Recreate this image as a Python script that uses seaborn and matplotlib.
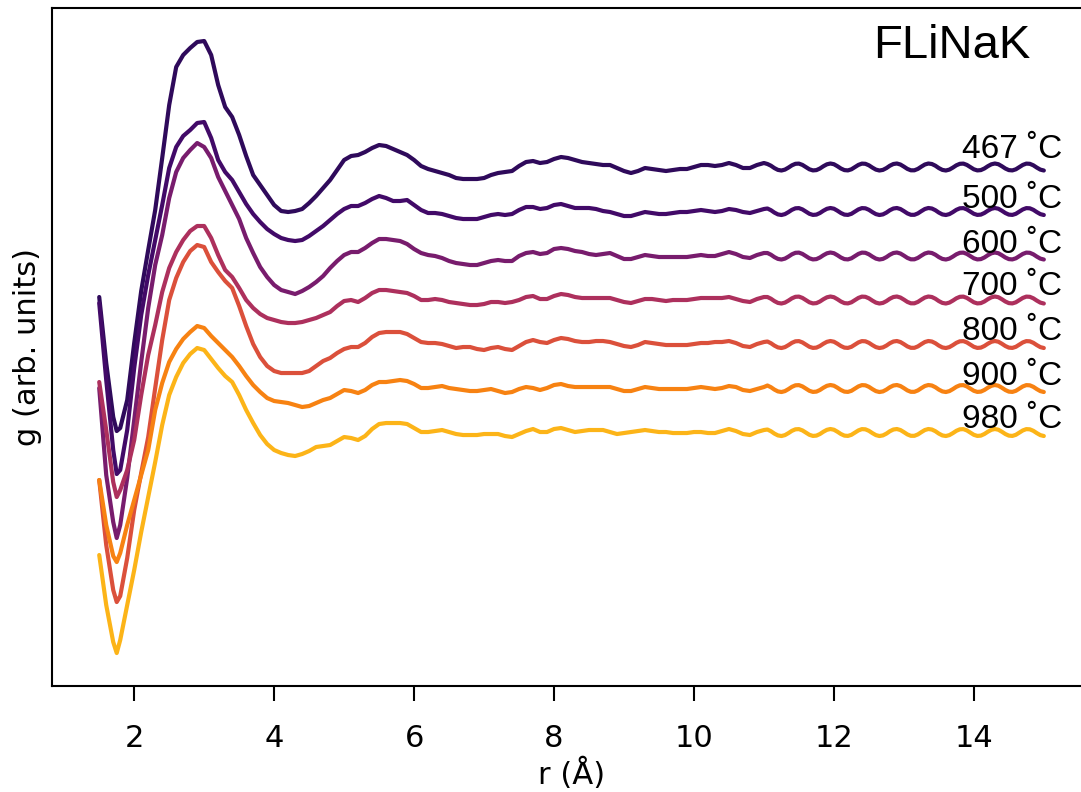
import numpy as np
import pandas as pd
import seaborn as sns
import matplotlib
matplotlib.use("Agg")
import matplotlib.pyplot as plt
from matplotlib.colors import Normalize

# sampling grid in r (Angstrom): 0.1 steps, finer in the rippled tail
r = ([1.5, 1.6, 1.7, 1.75]
     + list(np.round(np.arange(1.8, 11.05, 0.1), 2))
     + list(np.round(np.arange(11.05, 15.01, 0.05), 2)))

temps = [467, 500, 600, 700, 800, 900, 980]

# g(r), already stacked with offsets (arb. units)
g_467 = [3.89, 3.23, 2.69, 2.55, 2.58, 2.86, 3.43, 3.95, 4.36, 4.76,
         5.28, 5.81, 6.19, 6.31, 6.38, 6.44, 6.45, 6.31, 6.01, 5.79,
         5.69, 5.51, 5.30, 5.11, 5.01, 4.91, 4.81, 4.75, 4.74, 4.75,
         4.77, 4.83, 4.90, 4.98, 5.06, 5.16, 5.26, 5.30, 5.31, 5.34,
         5.38, 5.41, 5.40, 5.37, 5.34, 5.31, 5.26, 5.20, 5.17, 5.15,
         5.13, 5.11, 5.08, 5.07, 5.07, 5.07, 5.08, 5.11, 5.13, 5.14,
         5.15, 5.20, 5.24, 5.25, 5.23, 5.24, 5.27, 5.29, 5.28, 5.26,
         5.24, 5.23, 5.22, 5.21, 5.21, 5.18, 5.15, 5.13, 5.15, 5.18,
         5.17, 5.16, 5.15, 5.16, 5.17, 5.17, 5.19, 5.21, 5.21, 5.20,
         5.21, 5.23, 5.21, 5.18, 5.18, 5.21, 5.23,
         5.220, 5.203, 5.179, 5.161, 5.155, 5.164, 5.184, 5.207, 5.222, 5.224,
         5.211, 5.189, 5.167, 5.156, 5.159, 5.175, 5.198, 5.217, 5.225, 5.218,
         5.198, 5.175, 5.159, 5.156, 5.167, 5.189, 5.211, 5.224, 5.222, 5.207,
         5.184, 5.164, 5.155, 5.161, 5.179, 5.203, 5.220, 5.225, 5.215, 5.194,
         5.171, 5.157, 5.157, 5.171, 5.194, 5.215, 5.225, 5.220, 5.203, 5.179,
         5.161, 5.155, 5.164, 5.184, 5.207, 5.222, 5.224, 5.211, 5.189, 5.167,
         5.156, 5.159, 5.175, 5.198, 5.217, 5.225, 5.218, 5.198, 5.175, 5.159,
         5.156, 5.167, 5.189, 5.211, 5.224, 5.222, 5.207, 5.184, 5.164, 5.155]

g_500 = [3.83, 3.06, 2.36, 2.12, 2.16, 2.56, 3.18, 3.71, 4.11, 4.46,
         4.81, 5.18, 5.39, 5.50, 5.56, 5.63, 5.64, 5.48, 5.26, 5.14,
         5.06, 4.94, 4.82, 4.72, 4.64, 4.57, 4.52, 4.48, 4.46, 4.45,
         4.46, 4.50, 4.55, 4.60, 4.66, 4.72, 4.77, 4.80, 4.80, 4.83,
         4.87, 4.90, 4.88, 4.85, 4.85, 4.86, 4.81, 4.76, 4.73, 4.73,
         4.72, 4.70, 4.68, 4.67, 4.67, 4.67, 4.69, 4.71, 4.72, 4.71,
         4.72, 4.76, 4.79, 4.79, 4.77, 4.78, 4.81, 4.82, 4.80, 4.78,
         4.78, 4.78, 4.77, 4.75, 4.74, 4.72, 4.70, 4.70, 4.72, 4.74,
         4.73, 4.72, 4.72, 4.73, 4.74, 4.74, 4.75, 4.76, 4.75, 4.74,
         4.75, 4.77, 4.76, 4.74, 4.73, 4.75, 4.77,
         4.775, 4.758, 4.734, 4.716, 4.710, 4.719, 4.739, 4.762, 4.777, 4.779,
         4.766, 4.744, 4.722, 4.711, 4.714, 4.730, 4.753, 4.772, 4.780, 4.773,
         4.753, 4.730, 4.714, 4.711, 4.722, 4.744, 4.766, 4.779, 4.777, 4.762,
         4.739, 4.719, 4.710, 4.716, 4.734, 4.758, 4.775, 4.780, 4.770, 4.749,
         4.726, 4.712, 4.712, 4.726, 4.749, 4.770, 4.780, 4.775, 4.758, 4.734,
         4.716, 4.710, 4.719, 4.739, 4.762, 4.777, 4.779, 4.766, 4.744, 4.722,
         4.711, 4.714, 4.730, 4.753, 4.772, 4.780, 4.773, 4.753, 4.730, 4.714,
         4.711, 4.722, 4.744, 4.766, 4.779, 4.777, 4.762, 4.739, 4.719, 4.710]

g_600 = [2.98, 2.11, 1.64, 1.48, 1.61, 2.08, 2.66, 3.24, 3.78, 4.21,
         4.51, 4.88, 5.14, 5.28, 5.36, 5.43, 5.39, 5.28, 5.09, 4.95,
         4.81, 4.67, 4.48, 4.33, 4.19, 4.09, 4.01, 3.96, 3.94, 3.92,
         3.95, 3.99, 4.04, 4.10, 4.18, 4.25, 4.31, 4.34, 4.34, 4.38,
         4.43, 4.47, 4.47, 4.46, 4.45, 4.42, 4.37, 4.33, 4.31, 4.30,
         4.28, 4.25, 4.23, 4.22, 4.21, 4.21, 4.23, 4.25, 4.26, 4.25,
         4.25, 4.30, 4.33, 4.34, 4.32, 4.33, 4.37, 4.38, 4.37, 4.35,
         4.34, 4.32, 4.31, 4.32, 4.33, 4.30, 4.27, 4.27, 4.29, 4.31,
         4.30, 4.29, 4.29, 4.29, 4.29, 4.29, 4.30, 4.31, 4.30, 4.30,
         4.32, 4.34, 4.32, 4.29, 4.28, 4.31, 4.33,
         4.330, 4.313, 4.289, 4.271, 4.265, 4.274, 4.294, 4.317, 4.332, 4.334,
         4.321, 4.299, 4.277, 4.266, 4.269, 4.285, 4.308, 4.327, 4.335, 4.328,
         4.308, 4.285, 4.269, 4.266, 4.277, 4.299, 4.321, 4.334, 4.332, 4.317,
         4.294, 4.274, 4.265, 4.271, 4.289, 4.313, 4.330, 4.335, 4.325, 4.304,
         4.281, 4.267, 4.267, 4.281, 4.304, 4.325, 4.335, 4.330, 4.313, 4.289,
         4.271, 4.265, 4.274, 4.294, 4.317, 4.332, 4.334, 4.321, 4.299, 4.277,
         4.266, 4.269, 4.285, 4.308, 4.327, 4.335, 4.328, 4.308, 4.285, 4.269,
         4.266, 4.277, 4.299, 4.321, 4.334, 4.332, 4.317, 4.294, 4.274, 4.265]

g_700 = [3.04, 2.56, 2.04, 1.89, 1.96, 2.16, 2.46, 2.91, 3.31, 3.61,
         3.94, 4.18, 4.34, 4.46, 4.55, 4.60, 4.60, 4.48, 4.31, 4.16,
         4.09, 3.98, 3.86, 3.78, 3.72, 3.68, 3.66, 3.64, 3.63, 3.63,
         3.64, 3.66, 3.68, 3.71, 3.74, 3.80, 3.85, 3.86, 3.84, 3.88,
         3.93, 3.96, 3.96, 3.95, 3.94, 3.93, 3.90, 3.86, 3.86, 3.87,
         3.86, 3.84, 3.83, 3.82, 3.81, 3.81, 3.82, 3.84, 3.84, 3.83,
         3.84, 3.86, 3.89, 3.90, 3.87, 3.87, 3.90, 3.92, 3.91, 3.89,
         3.88, 3.88, 3.88, 3.88, 3.88, 3.86, 3.84, 3.83, 3.85, 3.87,
         3.87, 3.86, 3.85, 3.86, 3.86, 3.86, 3.87, 3.88, 3.88, 3.88,
         3.88, 3.89, 3.87, 3.85, 3.84, 3.87, 3.89,
         3.890, 3.873, 3.849, 3.831, 3.825, 3.834, 3.854, 3.877, 3.892, 3.894,
         3.881, 3.859, 3.837, 3.826, 3.829, 3.845, 3.868, 3.887, 3.895, 3.888,
         3.868, 3.845, 3.829, 3.826, 3.837, 3.859, 3.881, 3.894, 3.892, 3.877,
         3.854, 3.834, 3.825, 3.831, 3.849, 3.873, 3.890, 3.895, 3.885, 3.864,
         3.841, 3.827, 3.827, 3.841, 3.864, 3.885, 3.895, 3.890, 3.873, 3.849,
         3.831, 3.825, 3.834, 3.854, 3.877, 3.892, 3.894, 3.881, 3.859, 3.837,
         3.826, 3.829, 3.845, 3.868, 3.887, 3.895, 3.888, 3.868, 3.845, 3.829,
         3.826, 3.837, 3.859, 3.881, 3.894, 3.892, 3.877, 3.854, 3.834, 3.825]

g_800 = [2.06, 1.41, 0.96, 0.84, 0.90, 1.28, 1.76, 2.13, 2.49, 2.98,
         3.46, 3.86, 4.08, 4.24, 4.35, 4.41, 4.39, 4.24, 4.14, 4.05,
         3.98, 3.80, 3.60, 3.42, 3.29, 3.20, 3.15, 3.13, 3.13, 3.13,
         3.13, 3.15, 3.20, 3.25, 3.28, 3.33, 3.37, 3.39, 3.39, 3.43,
         3.49, 3.53, 3.54, 3.54, 3.54, 3.52, 3.48, 3.44, 3.43, 3.43,
         3.42, 3.40, 3.38, 3.39, 3.39, 3.37, 3.36, 3.38, 3.39, 3.37,
         3.36, 3.40, 3.44, 3.46, 3.44, 3.43, 3.46, 3.48, 3.47, 3.45,
         3.44, 3.44, 3.45, 3.45, 3.44, 3.42, 3.40, 3.39, 3.41, 3.44,
         3.43, 3.42, 3.41, 3.41, 3.41, 3.41, 3.42, 3.43, 3.43, 3.44,
         3.44, 3.45, 3.43, 3.40, 3.39, 3.42, 3.44,
         3.445, 3.428, 3.404, 3.386, 3.380, 3.389, 3.409, 3.432, 3.447, 3.449,
         3.436, 3.414, 3.392, 3.381, 3.384, 3.400, 3.423, 3.442, 3.450, 3.443,
         3.423, 3.400, 3.384, 3.381, 3.392, 3.414, 3.436, 3.449, 3.447, 3.432,
         3.409, 3.389, 3.380, 3.386, 3.404, 3.428, 3.445, 3.450, 3.440, 3.419,
         3.396, 3.382, 3.382, 3.396, 3.419, 3.440, 3.450, 3.445, 3.428, 3.404,
         3.386, 3.380, 3.389, 3.409, 3.432, 3.447, 3.449, 3.436, 3.414, 3.392,
         3.381, 3.384, 3.400, 3.423, 3.442, 3.450, 3.443, 3.423, 3.400, 3.384,
         3.381, 3.392, 3.414, 3.436, 3.449, 3.447, 3.432, 3.409, 3.389, 3.380]

g_900 = [2.06, 1.61, 1.30, 1.24, 1.33, 1.61, 1.86, 2.11, 2.36, 2.76,
         3.03, 3.24, 3.37, 3.47, 3.54, 3.60, 3.58, 3.50, 3.43, 3.36,
         3.29, 3.20, 3.10, 3.01, 2.94, 2.88, 2.85, 2.84, 2.83, 2.81,
         2.79, 2.80, 2.83, 2.86, 2.88, 2.92, 2.96, 2.95, 2.93, 2.96,
         3.01, 3.04, 3.04, 3.05, 3.06, 3.05, 3.02, 2.98, 2.98, 2.99,
         3.00, 2.98, 2.97, 2.96, 2.95, 2.95, 2.96, 2.97, 2.95, 2.93,
         2.94, 2.97, 2.99, 2.98, 2.96, 2.98, 3.01, 3.02, 3.00, 2.99,
         2.99, 2.99, 2.99, 2.99, 2.99, 2.97, 2.95, 2.95, 2.97, 2.99,
         2.98, 2.97, 2.97, 2.97, 2.97, 2.97, 2.98, 2.99, 2.98, 2.97,
         2.98, 3.00, 2.99, 2.96, 2.95, 2.97, 2.99,
         3.005, 2.988, 2.964, 2.946, 2.940, 2.949, 2.969, 2.992, 3.007, 3.009,
         2.996, 2.974, 2.952, 2.941, 2.944, 2.960, 2.983, 3.002, 3.010, 3.003,
         2.983, 2.960, 2.944, 2.941, 2.952, 2.974, 2.996, 3.009, 3.007, 2.992,
         2.969, 2.949, 2.940, 2.946, 2.964, 2.988, 3.005, 3.010, 3.000, 2.979,
         2.956, 2.942, 2.942, 2.956, 2.979, 3.000, 3.010, 3.005, 2.988, 2.964,
         2.946, 2.940, 2.949, 2.969, 2.992, 3.007, 3.009, 2.996, 2.974, 2.952,
         2.941, 2.944, 2.960, 2.983, 3.002, 3.010, 3.003, 2.983, 2.960, 2.944,
         2.941, 2.952, 2.974, 2.996, 3.009, 3.007, 2.992, 2.969, 2.949, 2.940]

g_980 = [1.31, 0.81, 0.44, 0.33, 0.46, 0.81, 1.16, 1.54, 1.89, 2.24,
         2.61, 2.91, 3.09, 3.23, 3.32, 3.38, 3.36, 3.27, 3.18, 3.10,
         3.04, 2.91, 2.76, 2.63, 2.51, 2.42, 2.36, 2.33, 2.31, 2.30,
         2.32, 2.35, 2.39, 2.40, 2.41, 2.45, 2.49, 2.48, 2.46, 2.50,
         2.57, 2.62, 2.63, 2.63, 2.63, 2.62, 2.58, 2.54, 2.54, 2.55,
         2.56, 2.54, 2.52, 2.51, 2.51, 2.51, 2.52, 2.52, 2.52, 2.50,
         2.49, 2.52, 2.55, 2.57, 2.54, 2.54, 2.57, 2.58, 2.56, 2.54,
         2.55, 2.56, 2.56, 2.56, 2.54, 2.52, 2.53, 2.54, 2.55, 2.56,
         2.55, 2.54, 2.54, 2.53, 2.53, 2.53, 2.54, 2.54, 2.53, 2.53,
         2.55, 2.57, 2.55, 2.52, 2.51, 2.54, 2.56,
         2.565, 2.548, 2.524, 2.506, 2.500, 2.509, 2.529, 2.552, 2.567, 2.569,
         2.556, 2.534, 2.512, 2.501, 2.504, 2.520, 2.543, 2.562, 2.570, 2.563,
         2.543, 2.520, 2.504, 2.501, 2.512, 2.534, 2.556, 2.569, 2.567, 2.552,
         2.529, 2.509, 2.500, 2.506, 2.524, 2.548, 2.565, 2.570, 2.560, 2.539,
         2.516, 2.502, 2.502, 2.516, 2.539, 2.560, 2.570, 2.565, 2.548, 2.524,
         2.506, 2.500, 2.509, 2.529, 2.552, 2.567, 2.569, 2.556, 2.534, 2.512,
         2.501, 2.504, 2.520, 2.543, 2.562, 2.570, 2.563, 2.543, 2.520, 2.504,
         2.501, 2.512, 2.534, 2.556, 2.569, 2.567, 2.552, 2.529, 2.509, 2.500]

curves = [g_467, g_500, g_600, g_700, g_800, g_900, g_980]

# baseline heights of the temperature labels (arb. units)
label_y = [5.28, 4.78, 4.33, 3.91, 3.46, 3.01, 2.58]

labels = [f"{t} \u02daC" for t in temps]

df = pd.concat([pd.DataFrame({"r": r, "g": g, "T": lab}) for lab, g in zip(labels, curves)],
               ignore_index=True)

sns.set_style("ticks")
plt.rcParams["font.family"] = ["DejaVu Sans"]
plt.rcParams["text.color"] = "black"
plt.rcParams["axes.labelcolor"] = "black"
plt.rcParams["xtick.color"] = "black"

# colour follows temperature on the inferno map
norm = Normalize(345, 1110)
cmap = plt.get_cmap("inferno")
colors = {lab: cmap(norm(t)) for lab, t in zip(labels, temps)}

fig = plt.figure(figsize=(10.81, 7.92), dpi=100)
ax = fig.add_axes([0.0481, 0.1338, 0.9612, 0.8561])

sns.lineplot(data=df, x="r", y="g", hue="T", hue_order=labels, palette=colors,
             linewidth=3, estimator=None, sort=False, legend=False, ax=ax)

for lab, y in zip(labels, label_y):
    ax.text(13.83, y, lab, fontsize=24, family=["Liberation Sans", "DejaVu Sans"],
            ha="left", va="baseline", color="black")

ax.text(0.79, 0.926, "FLiNaK", transform=ax.transAxes, fontsize=34,
        family=["Liberation Sans", "DejaVu Sans"], ha="left", va="baseline", color="black")

ax.set_xlim(0.825, 15.675)
ax.set_ylim(0, 6.78)
ax.set_xticks([2, 4, 6, 8, 10, 12, 14])
ax.set_yticks([])
ax.tick_params(axis="x", labelsize=22, length=11, width=1.5, pad=16, color="black",
               labelcolor="black")
for s in ax.spines.values():
    s.set_linewidth(1.5)
    s.set_color("black")

ax.set_xlabel("r (Å)", fontsize=22)
ax.set_ylabel("g (arb. units)", fontsize=22, labelpad=7)

fig.savefig("out.png", dpi=100)
